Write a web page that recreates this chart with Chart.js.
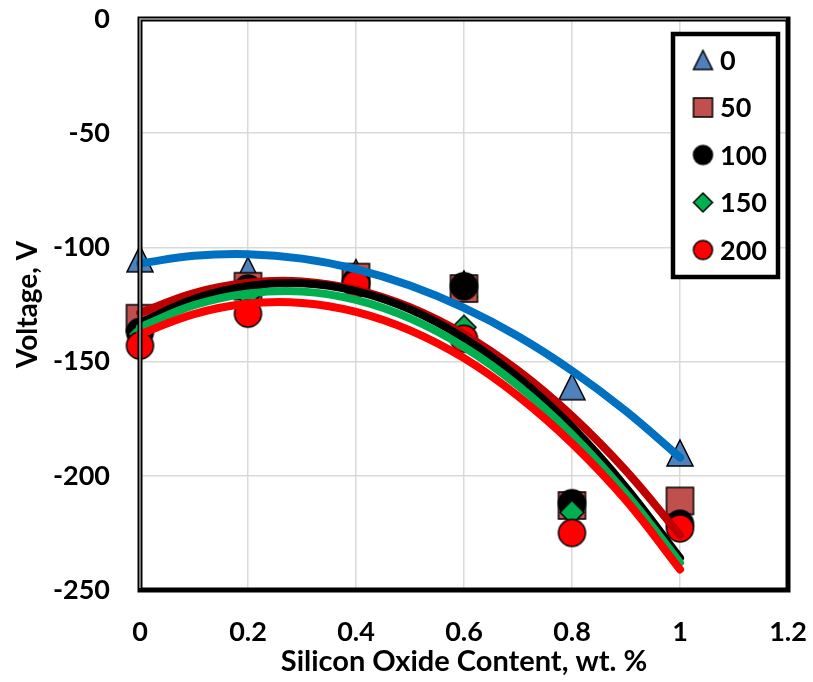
<!DOCTYPE html>
<html>
<head>
<meta charset="utf-8">
<script src="https://cdn.jsdelivr.net/npm/chart.js@4/dist/chart.umd.min.js"></script>
<style>
  html, body { margin: 0; padding: 0; background: #fff; }
  #wrap { width: 813px; height: 682px; }
</style>
</head>
<body>
<div id="wrap"><canvas id="chart" width="813" height="682"></canvas></div>
<script>
'use strict';

// measured points (x = wt. %)
const xValues = [0, 0.2, 0.4, 0.6, 0.8, 1];
const seriesNames = ['0', '50', '100', '150', '200'];
const v0   = [-105, -110, -111, -116, -161, -190];
const v50  = [-131, -117, -113, -118, -213, -211];
const v100 = [-137, -118, -115, -117, -212, -221];
const v150 = [-138, -121, -116, -135, -216, -222];
const v200 = [-143, -129, -116, -140, -225, -223];

// trend curves
const fitX   = [0, 0.1, 0.2, 0.3, 0.4, 0.5, 0.6, 0.7, 0.8, 0.9, 1];
const fit0   = [-107, -103.7, -103, -104.9, -109.5, -116.7, -126.5, -138.9, -154, -171.7, -192];
const fit50  = [-128.7, -120, -115.5, -114.9, -118.5, -126.2, -138, -153.9, -173.8, -197.8, -226];
const fit100 = [-133, -122.6, -116.9, -115.7, -119.1, -127.1, -139.7, -156.9, -178.6, -205.1, -236];
const fit150 = [-135, -125.3, -120.2, -119.3, -123, -131.1, -143.6, -160.5, -181.9, -207.8, -238];
const fit200 = [-138, -129.2, -124.6, -124.3, -128.2, -136.3, -148.5, -165.1, -185.8, -210.8, -241];

const yTicks = [-250, -200, -150, -100, -50, 0];
const xTicks = [0, 0.2, 0.4, 0.6, 0.8, 1, 1.2];

const FONT = 'Lato';
const markerFill = ['#4f81bd', '#c0504d', '#000000', '#00b050', '#ff0000'];
const markerShape = ['triangle', 'square', 'circle', 'diamond', 'circle'];
const markerSize = [26, 27, 27, 24, 27];
const lineColors = ['#0070c0', '#c00000', '#000000', '#00b050', '#ff0000'];

function makeMarker(shape, size, fill) {
  const pad = 2;
  const c = document.createElement('canvas');
  c.width = c.height = size + pad * 2;
  const g = c.getContext('2d');
  const s = size, o = pad, m = pad + size / 2;
  g.fillStyle = fill;
  g.strokeStyle = '#000';
  g.lineWidth = 1.5;
  g.beginPath();
  if (shape === 'triangle') {
    g.moveTo(m, o); g.lineTo(o + s, o + s); g.lineTo(o, o + s); g.closePath();
  } else if (shape === 'square') {
    g.rect(o, o, s, s);
  } else if (shape === 'diamond') {
    g.moveTo(m, o); g.lineTo(o + s, m); g.lineTo(m, o + s); g.lineTo(o, m); g.closePath();
  } else {
    g.arc(m, m, s / 2, 0, Math.PI * 2);
  }
  g.fill();
  g.stroke();
  return c;
}

const pointSeries = [v0, v50, v100, v150, v200];
const fitSeries = [fit0, fit50, fit100, fit150, fit200];

function toXY(xs, ys) {
  return xs.map(function(x, i) { return { x: x, y: ys[i] }; });
}

const datasets = [];
pointSeries.forEach(function(vals, i) {
  datasets.push({
    label: seriesNames[i],
    data: toXY(xValues, vals),
    showLine: false,
    pointStyle: makeMarker(markerShape[i], markerSize[i], markerFill[i]),
    pointRadius: 13,
    order: 10 - i,
    clip: false
  });
});
fitSeries.forEach(function(vals, i) {
  datasets.push({
    label: 'fit ' + seriesNames[i],
    data: toXY(fitX, vals),
    showLine: true,
    borderColor: lineColors[i],
    borderWidth: 8,
    borderCapStyle: 'round',
    borderJoinStyle: 'round',
    tension: 0.4,
    pointRadius: 0,
    order: 5 - i,
    clip: false
  });
});

const legendMarkers = markerShape.map(function(s, i) { return makeMarker(s, 19, markerFill[i]); });

// frame + boxed legend inside the plot, drawn over the data
const framePlugin = {
  id: 'frame',
  afterDatasetsDraw: function(chart) {
    const ctx = chart.ctx;
    const a = chart.chartArea;
    ctx.save();
    ctx.strokeStyle = '#000';
    ctx.lineWidth = 5;
    ctx.strokeRect(a.left, a.top, a.right - a.left, a.bottom - a.top);
    ctx.strokeStyle = '#a6a6a6';
    ctx.lineWidth = 1.5;
    ctx.beginPath();
    ctx.moveTo(a.left, a.bottom - 2);
    ctx.lineTo(a.left, a.top);
    ctx.lineTo(a.right - 2, a.top);
    ctx.stroke();

    // legend
    const bx = 673, by = 34, bw = 105, bh = 243;
    ctx.fillStyle = '#fff';
    ctx.fillRect(bx, by, bw, bh);
    ctx.strokeStyle = '#000';
    ctx.lineWidth = 4.5;
    ctx.strokeRect(bx, by, bw, bh);
    ctx.font = 'bold 27px ' + FONT;
    ctx.fillStyle = '#000';
    ctx.textBaseline = 'middle';
    ctx.textAlign = 'left';
    seriesNames.forEach(function(name, i) {
      const cy = 60 + i * 47.5;
      const m = legendMarkers[i];
      ctx.drawImage(m, 703 - m.width / 2, cy - m.height / 2);
      ctx.fillText(name, 720, cy + 1);
    });
    ctx.restore();
  }
};

// drop the extra edge padding Chart.js reserves for tick labels
function noEdgePadding(s) {
  s.paddingTop = 0; s.paddingBottom = 0; s.paddingLeft = 0; s.paddingRight = 0;
}

const tickFont = { family: FONT, size: 27, weight: 'bold' };

new Chart(document.getElementById('chart'), {
  type: 'scatter',
  data: { datasets: datasets },
  options: {
    responsive: false,
    animation: false,
    devicePixelRatio: 1,
    layout: { padding: { left: 0, top: 19, right: 25, bottom: 0 } },
    plugins: {
      legend: { display: false },
      tooltip: { enabled: false }
    },
    scales: {
      x: {
        type: 'linear',
        min: xTicks[0],
        max: xTicks[xTicks.length - 1],
        afterBuildTicks: function(s) { s.ticks = xTicks.map(function(v) { return { value: v }; }); },
        afterFit: function(s) { s.height = 92; noEdgePadding(s); },
        ticks: {
          font: tickFont, color: '#000', padding: 26,
          callback: function(v) { return String(+v.toFixed(1)); }
        },
        grid: { color: '#d9d9d9', lineWidth: 1.5, drawTicks: false },
        border: { display: false },
        title: {
          display: true, text: 'Silicon Oxide Content, wt. %',
          font: { family: FONT, size: 29, weight: 'bold' }, color: '#000',
          padding: { top: 0, bottom: 3 }
        }
      },
      y: {
        type: 'linear',
        min: yTicks[0],
        max: yTicks[yTicks.length - 1],
        afterBuildTicks: function(s) { s.ticks = yTicks.map(function(v) { return { value: v }; }); },
        afterFit: function(s) { s.width = 140; noEdgePadding(s); },
        ticks: { font: tickFont, color: '#000', padding: 30 },
        grid: { color: '#d9d9d9', lineWidth: 1.5, drawTicks: false },
        border: { display: false },
        title: {
          display: true, text: 'Voltage, V',
          font: { family: FONT, size: 28, weight: 'bold' }, color: '#000',
          padding: { top: 11, bottom: 0 }
        }
      }
    }
  },
  plugins: [framePlugin]
});
</script>
</body>
</html>
